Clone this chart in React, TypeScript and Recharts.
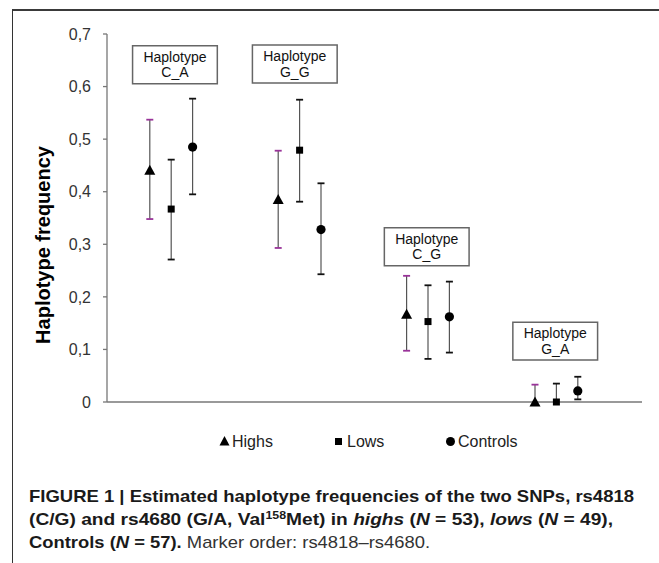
import React from 'react';
import { ScatterChart, Scatter, XAxis, YAxis, ErrorBar, ReferenceArea } from 'recharts';

// ---- data ----
const haplotypes = ['C_A', 'G_G', 'C_G', 'G_A'];

const highs = [0.441, 0.385, 0.167, 0.0];
const highsLower = [0.348, 0.293, 0.0975, 0.0];
const highsUpper = [0.537, 0.478, 0.24, 0.033];

const lows = [0.367, 0.479, 0.153, 0.0];
const lowsLower = [0.271, 0.381, 0.082, 0.0];
const lowsUpper = [0.461, 0.575, 0.222, 0.035];

const controls = [0.485, 0.328, 0.162, 0.021];
const controlsLower = [0.395, 0.243, 0.094, 0.005];
const controlsUpper = [0.577, 0.416, 0.229, 0.048];

const yTicks = [0, 0.1, 0.2, 0.3, 0.4, 0.5, 0.6, 0.7];
const seriesNames = ['Highs', 'Lows', 'Controls'];

// haplotype label boxes: centre in data units
const boxCenterX = [3.175, 8.775, 14.94, 20.945];
const boxCenterY = [0.6415, 0.643, 0.2953, 0.1157];

// ---- helpers ----
const FONT = '"Liberation Sans", Arial, Helvetica, sans-serif';

function buildSeries(values: number[], lower: number[], upper: number[], offset: number) {
  return haplotypes.map((h, i) => ({
    name: h,
    x: i * 6 + 2 + offset,
    y: values[i],
    err: [values[i] - lower[i], upper[i] - values[i]],
  }));
}

// cap positions (the bounds themselves), skipping bounds hidden under the marker
function buildCaps(values: number[], lower: number[], upper: number[], offset: number) {
  const out: { x: number; y: number }[] = [];
  haplotypes.forEach((h, i) => {
    if (upper[i] !== values[i]) out.push({ x: i * 6 + 2 + offset, y: upper[i] });
    if (lower[i] !== values[i]) out.push({ x: i * 6 + 2 + offset, y: lower[i] });
  });
  return out;
}

const highsData = buildSeries(highs, highsLower, highsUpper, 0);
const lowsData = buildSeries(lows, lowsLower, lowsUpper, 1);
const controlsData = buildSeries(controls, controlsLower, controlsUpper, 2);
const highsCaps = buildCaps(highs, highsLower, highsUpper, 0);
const lowsCaps = buildCaps(lows, lowsLower, lowsUpper, 1);
const controlsCaps = buildCaps(controls, controlsLower, controlsUpper, 2);

const Triangle = (p: any) => (
  <polygon
    points={`${p.cx},${p.cy - 5.5} ${p.cx - 5.5},${p.cy + 4.5} ${p.cx + 5.5},${p.cy + 4.5}`}
    fill="#000"
  />
);
const Square = (p: any) => <rect x={p.cx - 3.5} y={p.cy - 3.5} width={7} height={7} fill="#000" />;
const Dot = (p: any) => <circle cx={p.cx} cy={p.cy} r={4.6} fill="#000" />;
const capShape = (color: string) => (p: any) => (
  <line x1={p.cx - 3.5} x2={p.cx + 3.5} y1={p.cy} y2={p.cy} stroke={color} strokeWidth={1.8} />
);

const fmt = (v: number) => (v === 0 ? '0' : v.toFixed(1).replace('.', ','));

const boxLabel = (name: string) => (p: any) => {
  const vb = p.viewBox || {};
  const cx = vb.x + vb.width / 2;
  return (
    <g>
      <text x={cx} y={vb.y + 16} textAnchor="middle" fontFamily={FONT} fontSize={14} fill="#111">
        Haplotype
      </text>
      <text x={cx} y={vb.y + 31.5} textAnchor="middle" fontFamily={FONT} fontSize={14} fill="#111">
        {name}
      </text>
    </g>
  );
};

export default function App() {
  return (
    <div
      style={{
        position: 'absolute',
        left: 0,
        top: 0,
        width: 659,
        height: 563,
        background: '#fff',
        overflow: 'hidden',
      }}
    >
      {/* frame */}
      <div
        style={{
          position: 'absolute',
          left: 12,
          top: 9,
          width: 700,
          height: 600,
          borderLeft: '1.5px solid #333',
          borderTop: '2px solid #3a3a3a',
        }}
      />
      <div style={{ position: 'absolute', left: 0, top: 0 }}>
        <ScatterChart width={659} height={470} margin={{ top: 34, right: 17, bottom: 67, left: 27 }}>
          <XAxis
            type="number"
            dataKey="x"
            domain={[0, 25]}
            tick={false}
            tickLine={false}
            height={1}
            axisLine={{ stroke: '#777', strokeWidth: 1.3 }}
          />
          <YAxis
            type="number"
            dataKey="y"
            domain={[0, 0.7]}
            ticks={yTicks}
            interval={0}
            width={80}
            tickSize={4}
            tickMargin={12}
            tickFormatter={fmt}
            tick={{ fill: '#333', fontSize: 16, fontFamily: FONT }}
            tickLine={{ stroke: '#777', strokeWidth: 1.3 }}
            axisLine={{ stroke: '#777', strokeWidth: 1.3 }}
            label={() => (
              <text
                transform="translate(50,245) rotate(-90)"
                textAnchor="middle"
                fontFamily={FONT}
                fontSize={20}
                fontWeight="bold"
                fill="#000"
              >
                Haplotype frequency
              </text>
            )}
          />
          {haplotypes.map((h, i) => (
            <ReferenceArea
              key={h}
              x1={boxCenterX[i] - 1.98}
              x2={boxCenterX[i] + 1.98}
              y1={boxCenterY[i] - 0.036}
              y2={boxCenterY[i] + 0.036}
              ifOverflow="visible"
              fill="#fff"
              fillOpacity={1}
              stroke="#666"
              strokeWidth={1.5}
              label={boxLabel(h)}
            />
          ))}
          <Scatter name={seriesNames[0]} data={highsData} shape={Triangle} isAnimationActive={false}>
            <ErrorBar dataKey="err" direction="y" width={0} stroke="#555" strokeWidth={1.2} isAnimationActive={false} />
          </Scatter>
          <Scatter name={seriesNames[1]} data={lowsData} shape={Square} isAnimationActive={false}>
            <ErrorBar dataKey="err" direction="y" width={0} stroke="#555" strokeWidth={1.2} isAnimationActive={false} />
          </Scatter>
          <Scatter name={seriesNames[2]} data={controlsData} shape={Dot} isAnimationActive={false}>
            <ErrorBar dataKey="err" direction="y" width={0} stroke="#555" strokeWidth={1.2} isAnimationActive={false} />
          </Scatter>
          <Scatter data={highsCaps} shape={capShape('#993399')} isAnimationActive={false} legendType="none" />
          <Scatter data={lowsCaps} shape={capShape('#111')} isAnimationActive={false} legendType="none" />
          <Scatter data={controlsCaps} shape={capShape('#111')} isAnimationActive={false} legendType="none" />
        </ScatterChart>
      </div>
      {/* legend + caption */}
      <svg
        width={659}
        height={563}
        style={{ position: 'absolute', left: 0, top: 0, pointerEvents: 'none' }}
      >
        <g fontFamily={FONT} fontSize={16} fill="#222">
          <polygon points="224.5,436 219.5,445.5 229.5,445.5" fill="#000" />
          <text x={232} y={446.5}>{seriesNames[0]}</text>
          <rect x={335} y={438} width={7} height={7} fill="#000" />
          <text x={347} y={446.5}>{seriesNames[1]}</text>
          <circle cx={450.5} cy={441.5} r={4.5} fill="#000" />
          <text x={458} y={446.5}>{seriesNames[2]}</text>
        </g>
        <g fontFamily={'"Liberation Sans Narrow", "Liberation Sans", Arial, sans-serif'} fontSize={17} fill="#1a1a1a">
          <text x={29} y={502} fontWeight="bold" textLength={605} lengthAdjust="spacingAndGlyphs">
            FIGURE 1 | Estimated haplotype frequencies of the two SNPs, rs4818
          </text>
          <text x={29} y={525} fontWeight="bold" textLength={584} lengthAdjust="spacingAndGlyphs">
            (C/G) and rs4680 (G/A, Val<tspan fontSize={11} dy={-6}>158</tspan>
            <tspan dy={6}>Met) in </tspan>
            <tspan fontStyle="italic">highs</tspan> (<tspan fontStyle="italic">N</tspan> = 53),{' '}
            <tspan fontStyle="italic">lows</tspan> (<tspan fontStyle="italic">N</tspan> = 49),
          </text>
          <text x={29} y={548} textLength={401} lengthAdjust="spacingAndGlyphs">
            <tspan fontWeight="bold">
              Controls (<tspan fontStyle="italic">N</tspan> = 57).
            </tspan>
            <tspan fill="#333"> Marker order: rs4818–rs4680.</tspan>
          </text>
        </g>
      </svg>
    </div>
  );
}
